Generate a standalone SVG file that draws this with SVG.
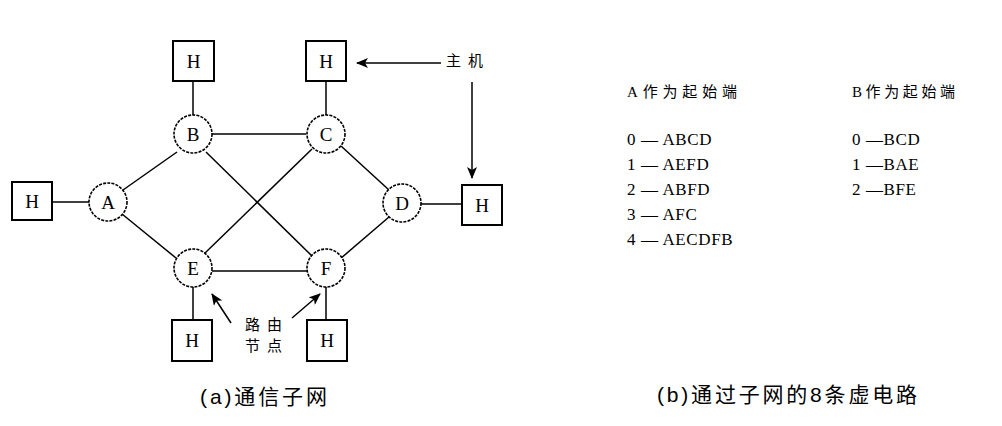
<svg xmlns="http://www.w3.org/2000/svg" width="1002" height="426" viewBox="0 0 1002 426">
<style>
.box{fill:#fff;stroke:#000;stroke-width:2}
.node{fill:#fff;stroke:#000;stroke-width:1.6;stroke-dasharray:3 1.2}
.ln{stroke:#000;stroke-width:1.5;fill:none}
.lbl{font-family:"Liberation Serif",serif;font-size:19px;text-anchor:middle;fill:#000}
.cjk{font-family:"Liberation Serif","Noto Sans CJK SC",serif;font-size:15px;fill:#000}
.cap{font-family:"Liberation Sans","Noto Sans CJK SC",sans-serif;font-size:21px;fill:#000}
.row{font-family:"Liberation Serif",serif;font-size:17px;fill:#000;letter-spacing:0.6px}
</style>
<defs>
<marker id="ah" markerWidth="12" markerHeight="10" refX="11" refY="5" orient="auto" markerUnits="userSpaceOnUse">
<path d="M0,0 L12,5 L0,10 L3,5 Z" fill="#000"/>
</marker>
</defs>
<rect width="1002" height="426" fill="#fff"/>
<g id="connectors">
<line class="ln" x1="193" y1="81" x2="193" y2="116"/>
<line class="ln" x1="326" y1="81" x2="326" y2="115"/>
<line class="ln" x1="52" y1="202" x2="89" y2="202"/>
<line class="ln" x1="421" y1="204" x2="462" y2="204"/>
<line class="ln" x1="193" y1="287" x2="193" y2="320"/>
<line class="ln" x1="326" y1="287" x2="326" y2="320"/>
<line class="ln" x1="212" y1="134" x2="306" y2="134"/>
<line class="ln" x1="123" y1="190" x2="177" y2="152"/>
<line class="ln" x1="122" y1="214" x2="176" y2="258"/>
<line class="ln" x1="206" y1="152" x2="312" y2="256"/>
<line class="ln" x1="312" y1="149" x2="204" y2="254"/>
<line class="ln" x1="341" y1="146" x2="389" y2="190"/>
<line class="ln" x1="389" y1="217" x2="340" y2="259"/>
<line class="ln" x1="212" y1="271" x2="307" y2="271"/>
<line class="ln" x1="441" y1="63" x2="357" y2="63" marker-end="url(#ah)"/>
<line class="ln" x1="472" y1="82" x2="472" y2="178" marker-end="url(#ah)"/>
<line class="ln" x1="231" y1="323" x2="212" y2="294" marker-end="url(#ah)"/>
<line class="ln" x1="292" y1="318" x2="320" y2="294" marker-end="url(#ah)"/>
</g>
<g id="H1"><rect class="box" x="173" y="41" width="41" height="40"/><text class="lbl" x="193.5" y="68">H</text></g>
<g id="H2"><rect class="box" x="306" y="41" width="40" height="40"/><text class="lbl" x="326" y="68">H</text></g>
<g id="H3"><rect class="box" x="12" y="182" width="40" height="38"/><text class="lbl" x="32" y="208">H</text></g>
<g id="H4"><rect class="box" x="462" y="185" width="40" height="40"/><text class="lbl" x="482" y="212">H</text></g>
<g id="H5"><rect class="box" x="172" y="320" width="40" height="41"/><text class="lbl" x="192" y="347">H</text></g>
<g id="H6"><rect class="box" x="307" y="320" width="40" height="41"/><text class="lbl" x="327" y="347">H</text></g>
<g id="A"><circle class="node" cx="108" cy="202" r="19"/><text class="lbl" x="108" y="209">A</text></g>
<g id="B"><circle class="node" cx="193" cy="134" r="19"/><text class="lbl" x="193" y="141">B</text></g>
<g id="C"><circle class="node" cx="326" cy="134" r="19"/><text class="lbl" x="326" y="141">C</text></g>
<g id="D"><circle class="node" cx="402" cy="203" r="19"/><text class="lbl" x="402" y="210">D</text></g>
<g id="E"><circle class="node" cx="193" cy="268" r="19"/><text class="lbl" x="193" y="275">E</text></g>
<g id="F"><circle class="node" cx="326" cy="268" r="19"/><text class="lbl" x="326" y="275">F</text></g>
<g id="labels">
<text class="cjk" x="446" y="66" textLength="37" lengthAdjust="spacing">主机</text>
<text class="cjk" x="245" y="330" textLength="37" lengthAdjust="spacing">路由</text>
<text class="cjk" x="245" y="351" textLength="37" lengthAdjust="spacing">节点</text>
<text class="cjk" x="627" y="97" textLength="110" lengthAdjust="spacing">A作为起始端</text>
<text class="cjk" x="852" y="97" textLength="103" lengthAdjust="spacing">B作为起始端</text>
<text class="row" x="627" y="145">0 — ABCD</text>
<text class="row" x="627" y="170">1 — AEFD</text>
<text class="row" x="627" y="195">2 — ABFD</text>
<text class="row" x="627" y="220">3 — AFC</text>
<text class="row" x="627" y="245">4 — AECDFB</text>
<text class="row" x="852" y="145">0 —BCD</text>
<text class="row" x="852" y="170">1 —BAE</text>
<text class="row" x="852" y="195">2 —BFE</text>
<text class="cap" x="200" y="404" textLength="127" lengthAdjust="spacing">(a)通信子网</text>
<text class="cap" x="657" y="402" textLength="260" lengthAdjust="spacing">(b)通过子网的8条虚电路</text>
</g>
</svg>
